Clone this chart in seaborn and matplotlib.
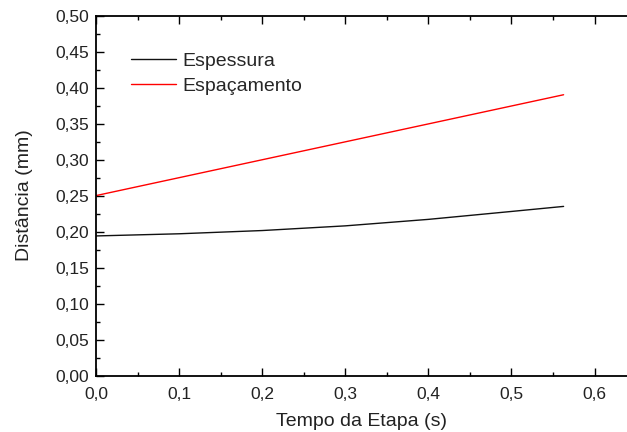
import matplotlib
matplotlib.use("Agg")
import matplotlib.pyplot as plt
import seaborn as sns
import pandas as pd
from matplotlib.ticker import MultipleLocator, FuncFormatter

# Data
t_esp = [0.0, 0.1, 0.2, 0.3, 0.4, 0.5, 0.5627]
espessura = [0.194, 0.197, 0.2015, 0.208, 0.217, 0.228, 0.235]
t_spc = [0.0, 0.5627]
espacamento = [0.25, 0.39]

df = pd.concat([
    pd.DataFrame({"t": t_esp, "d": espessura, "s": "Espessura"}),
    pd.DataFrame({"t": t_spc, "d": espacamento, "s": "Espaçamento"}),
])

sns.set_theme(style="ticks")
plt.rcParams['font.family'] = ['Liberation Sans', 'DejaVu Sans']

fig = plt.figure(figsize=(6.27, 4.32), dpi=100)
ax = fig.add_axes([96/627, 1-375.7/432, 1-96/627, (375.7-15.5)/432])

sns.lineplot(data=df, x="t", y="d", hue="s", palette={"Espessura": "#111111", "Espaçamento": "#ff0000"},
             ax=ax, linewidth=1.0, estimator=None, sort=False)

ax.set_xlim(0, 0.639)
ax.set_ylim(0, 0.5)
ax.xaxis.set_major_locator(MultipleLocator(0.1))
ax.xaxis.set_minor_locator(MultipleLocator(0.05))
ax.yaxis.set_major_locator(MultipleLocator(0.05))
ax.yaxis.set_minor_locator(MultipleLocator(0.025))
ax.xaxis.set_major_formatter(FuncFormatter(lambda v, p: f"{v:.1f}".replace(".", ",")))
ax.yaxis.set_major_formatter(FuncFormatter(lambda v, p: f"{v:.2f}".replace(".", ",")))
ax.tick_params(which="both", direction="in", top=True, right=False, width=1.0, color="black",
               labelsize=12.5, labelcolor="#222222")
ax.tick_params(which="major", length=6)
ax.tick_params(axis="x", which="major", pad=8)
ax.tick_params(axis="y", which="major", pad=5)
ax.tick_params(which="minor", length=3)
for side in ["left", "bottom", "top"]:
    ax.spines[side].set_linewidth(1.3)
    ax.spines[side].set_color("black")
ax.spines["right"].set_visible(False)

ax.set_xlabel("Tempo da Etapa (s)", fontsize=14, labelpad=8, color="#222222")
ax.set_ylabel("Distância (mm)", fontsize=14, labelpad=16, color="#222222")

leg = ax.legend(loc="upper left", bbox_to_anchor=(131/627, 1-52/432), bbox_transform=fig.transFigure,
                frameon=False, fontsize=14, borderpad=0, borderaxespad=0,
                handlelength=2.3, handletextpad=0.35, labelspacing=0.4, title=None)

fig.savefig("out.png", dpi=100)
